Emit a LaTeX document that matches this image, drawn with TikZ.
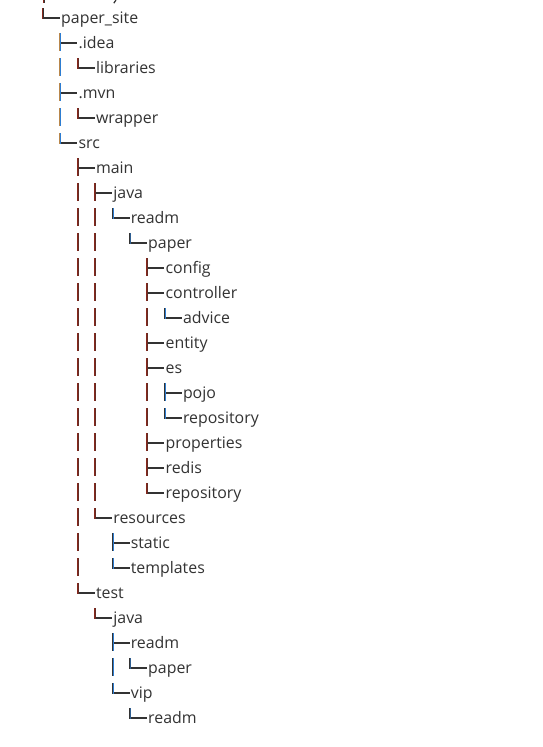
\documentclass[tikz,border=0pt]{standalone}
\usepackage{fontspec}
\setmainfont{Open Sans}
\definecolor{txt}{HTML}{333333}
\definecolor{rd}{RGB}{135,40,28}
\definecolor{bl}{RGB}{45,125,210}
\definecolor{tn}{RGB}{185,135,75}
\colorlet{A0}{rd}\colorlet{B0}{txt}
\colorlet{A1}{tn}\colorlet{B1}{bl}
\colorlet{A2}{rd}\colorlet{B2}{rd!60!txt}
\colorlet{A3}{rd}\colorlet{B3}{rd!60!txt}
\colorlet{A4}{txt}\colorlet{B4}{bl}
\colorlet{A5}{txt}\colorlet{B5}{bl!60!txt}
\colorlet{A6}{rd}\colorlet{B6}{rd!60!txt}
\colorlet{A7}{txt}\colorlet{B7}{bl}
\tikzset{
  lbl/.style={anchor=base west,inner sep=0pt,text=txt,font=\fontsize{15.9}{18}\selectfont},
  hline/.style={draw=txt,line width=1.7pt},
}
\newcommand\vseg[4]{%
  \draw[draw=A#1,line width=1pt] (#2-0.5,#3) -- (#2-0.5,#4);
  \draw[draw=B#1,line width=1pt] (#2+0.5,#3) -- (#2+0.5,#4);}
\begin{document}
\begin{tikzpicture}[x=1pt,y=-1pt]
\useasboundingbox[fill=white] (0,0) rectangle (543,747);
% fragments of the row above, cut off at the top edge
\vseg{0}{43.5}{0}{2.5}
\draw[txt,line width=1.2pt] (116,0) -- (113.8,3.2);
% rows
\foreach \k/\d/\ty/\t in {
  0/0/L/paper\_site, 1/1/T/.idea, 2/2/L/libraries, 3/1/T/.mvn, 4/2/L/wrapper,
  5/1/L/src, 6/2/T/main, 7/3/T/java, 8/4/L/readm, 9/5/L/paper,
  10/6/T/config, 11/6/T/controller, 12/7/L/advice, 13/6/T/entity, 14/6/T/es,
  15/7/T/pojo, 16/7/L/repository, 17/6/T/properties, 18/6/T/redis, 19/6/L/repository,
  20/3/L/resources, 21/4/T/static, 22/4/L/templates, 23/2/L/test, 24/3/L/java,
  25/4/T/readm, 26/5/L/paper, 27/4/L/vip, 28/5/L/readm}{
  \pgfmathsetmacro\sx{43+17.4*\d}
  \pgfmathsetmacro\cy{17.7+25*\k}
  \node[lbl] (n\k) at (\sx+18,\cy+5.6) {\t};
  \coordinate (s\k) at (\sx,\cy);
  \draw[hline] (s\k) -- ++(17,0);
  \if\ty T\vseg{\d}{\sx}{\cy-9.5}{\cy+8.5}\else\vseg{\d}{\sx}{\cy-9.5}{\cy+0.85}\fi
}
% continuation bars
\foreach \k/\d in {2/1,4/1,7/2,8/2,8/3,9/2,9/3,10/2,10/3,11/2,11/3,
  12/2,12/3,12/6,13/2,13/3,14/2,14/3,15/2,15/3,15/6,16/2,16/3,16/6,
  17/2,17/3,18/2,18/3,19/2,19/3,20/2,21/2,22/2,26/4}{
  \pgfmathsetmacro\sx{43+17.4*\d}
  \pgfmathsetmacro\cy{17.7+25*\k}
  \vseg{\d}{\sx}{\cy-9.5}{\cy+8.5}
}
\end{tikzpicture}
\end{document}
